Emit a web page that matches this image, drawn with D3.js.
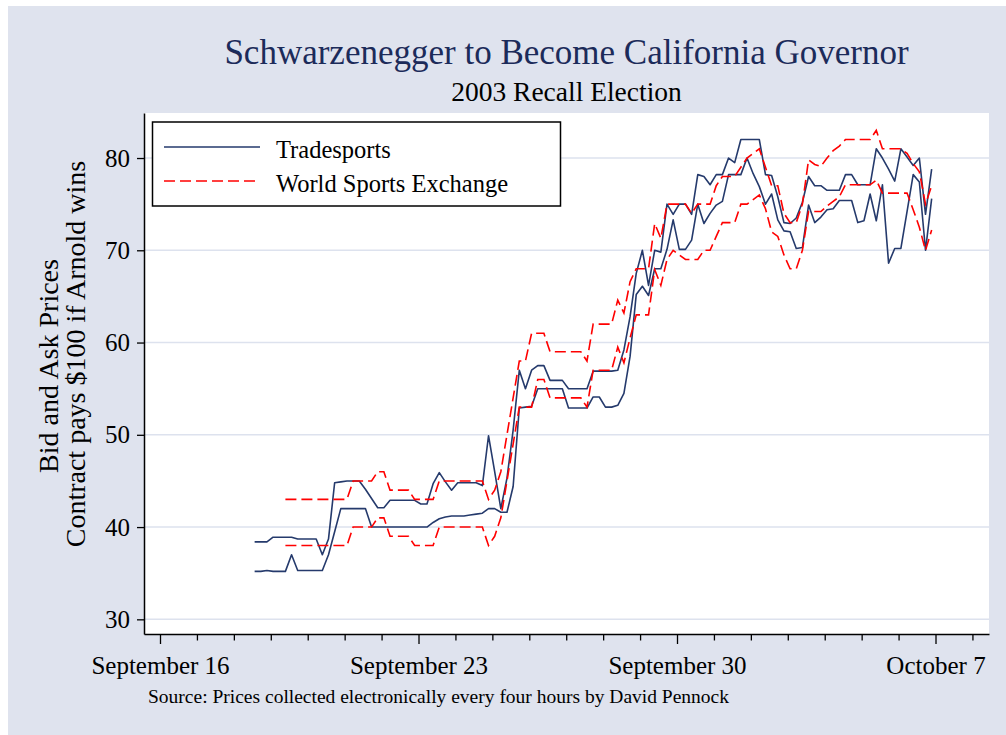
<!DOCTYPE html>
<html><head><meta charset="utf-8">
<script src="https://cdn.jsdelivr.net/npm/d3@7"></script>
<style>
html,body{margin:0;padding:0;background:#fff;}
svg{display:block;font-family:"Liberation Serif","Times New Roman",serif;}
</style></head><body>
<svg id="chart" width="1006" height="735"></svg>
<script>
// ---- data (prices every four hours) ----
const tsStart = [2003, 8, 18, 13, 30];   // Sept 18, 13:30
const wseStart = [2003, 8, 19, 9, 30];   // Sept 19, 09:30
const stepHours = 4;

const tradesportsAsk = [
38.4,38.4,38.4,38.9,38.9,38.9,38.9,38.7,38.7,38.7,
38.7,37.0,38.7,44.8,44.9,45.0,45.0,45.0,44.1,43.1,
42.1,42.1,42.9,42.9,42.9,42.9,42.9,42.5,42.5,44.7,
45.9,44.9,44.0,44.8,44.8,44.8,44.8,44.5,49.9,46.0,
42.0,45.3,50.5,57.0,55.0,57.0,57.5,57.5,55.9,55.9,
55.9,55.0,55.0,55.0,55.0,56.9,56.9,56.9,56.9,57.0,
59.2,62.8,67.5,70.0,66.2,70.0,69.8,75.0,73.9,75.0,
75.0,73.9,78.2,78.0,77.1,78.2,78.2,80.0,79.5,82.0,
82.0,82.0,82.0,78.2,78.1,75.8,73.0,72.9,73.5,75.2,
78.0,77.0,77.0,76.5,76.5,76.5,78.2,78.2,77.1,77.1,
77.1,81.0,80.0,78.8,77.5,81.0,80.1,79.2,80.0,73.9,
78.8];
const tradesportsBid = [
35.2,35.2,35.3,35.2,35.2,35.2,37.0,35.3,35.3,35.3,
35.3,35.3,37.0,39.5,42.0,42.0,42.0,42.0,42.0,40.0,
40.0,40.0,40.0,40.0,40.0,40.0,40.0,40.0,40.0,40.5,
40.9,41.1,41.2,41.2,41.2,41.3,41.4,41.5,42.0,42.0,
41.6,41.6,44.4,52.9,53.0,53.1,55.0,55.0,55.0,55.0,
55.0,52.9,52.9,52.9,52.9,54.1,54.1,53.0,53.0,53.2,
54.5,58.5,65.2,66.1,65.1,68.0,68.0,70.1,73.3,70.1,
70.1,71.1,75.0,72.9,74.0,74.9,75.3,78.2,78.2,78.2,
80.0,78.3,76.9,75.0,76.1,73.3,72.1,72.0,70.2,70.3,
74.9,73.0,73.6,74.4,74.5,75.4,75.4,75.4,73.0,73.2,
76.1,73.2,77.1,68.6,70.2,70.2,74.2,78.2,77.4,70.0,
75.6];
const wseAsk = [
43,43,43,43,43,43,43,43,43,43,
43,45,45,45,45,46,46,44,44,44,
44,43,43,43,43,45,45,45,45,45,
45,45,45,43,44,46,50,54,58,58,
61,61,61,59,59,59,59,59,59,58,
62,62,62,62,64.6,63.2,66.6,68,68,68,
72.9,71.3,75,75,75,75,74,75,75,75,
77,78,78,78,79,80,80.5,81,79,77,
77,74,73,73,75,79.8,79.3,79.1,80,80.8,
81.3,82,82,82,82,82,83,81,81,81,
81,80.5,79.4,78.5,75,77];
const wseBid = [
38,38,38,38,38,38,38,38,38,38,
38,40,40,40,40,41,41,39,39,39,
39,38,38,38,38,40,40,40,40,40,
40,40,40,38,39,41,45,49,53,53,
53,56,56,54,54,54,54,54,54,53,
57,57,57,57,59.5,57.8,60.5,63,63,63,
67.9,66.2,69,70,69.5,69,69,69,70,70,
71.5,73,73,73,75,75,75.5,76,74.5,72,
71.5,69.5,68,68,70,74.2,74.2,74.2,74.8,75.3,
75.8,77.1,77.1,77.1,77.1,77.1,77.6,76.2,76.2,76.2,
76.2,76.2,74.4,72.5,70,72.2];

const yTicks = [30, 40, 50, 60, 70, 80];
const majorTickDays = [[2003,8,16],[2003,8,23],[2003,8,30],[2003,9,7]];
const majorTickLabels = ["September 16","September 23","September 30","October 7"];
const legendLabels = ["Tradesports", "World Sports Exchange"];
const titleText = "Schwarzenegger to Become California Governor";
const subtitleText = "2003 Recall Election";
const yTitleLines = ["Bid and Ask Prices", "Contract pays $100 if Arnold wins"];
const sourceText = "Source: Prices collected electronically every four hours by David Pennock";

// ---- layout ----
const W = 1006, H = 735;
const plot = {left: 144, right: 989, top: 113, bottom: 634};
const navy = "#253a6c", red = "#ff0000";
const bg = "#dfe3ee", gridC = "#dde2ee";
const fontTick = 25;
const serif = "Liberation Serif, Times New Roman, serif";

const svg = d3.select("#chart");

const mk = a => new Date(a[0], a[1], a[2], a[3] || 0, a[4] || 0);
const series = (start, vals) => vals.map((v, i) => ({t: d3.timeHour.offset(mk(start), i * stepHours), v}));

const x = d3.scaleTime()
  .domain([new Date(2003, 8, 15, 13, 36), new Date(2003, 9, 8, 10, 46)])
  .range([plot.left, plot.right]);
const y = d3.scaleLinear().domain([28.41, 84.88]).range([plot.bottom, plot.top]);

// backgrounds
svg.append("rect").attr("x", 8).attr("y", 6).attr("width", W - 8).attr("height", H - 6).attr("fill", bg);
svg.append("rect").attr("x", plot.left).attr("y", plot.top)
  .attr("width", plot.right - plot.left).attr("height", plot.bottom - plot.top).attr("fill", "#fff");

// grid
svg.append("g").selectAll("line").data(yTicks).join("line")
  .attr("x1", plot.left).attr("x2", plot.right)
  .attr("y1", d => y(d)).attr("y2", d => y(d))
  .attr("stroke", gridC).attr("stroke-width", 1.5);

// y axis
const yAxis = svg.append("g").attr("transform", `translate(${plot.left},0)`)
  .call(d3.axisLeft(y).tickValues(yTicks).tickSize(7).tickSizeOuter(0).tickPadding(7));
yAxis.selectAll("text").attr("font-size", fontTick).attr("font-family", serif).attr("fill", "#000");
yAxis.selectAll("line").attr("stroke", "#000").attr("stroke-width", 1.3);
yAxis.select(".domain").attr("stroke", "#000").attr("stroke-width", 1.5);

// x axis: daily minor ticks, weekly labelled
const days = d3.timeDay.range(new Date(2003, 8, 16), new Date(2003, 9, 9));
const majors = majorTickDays.map(mk);
const isMajor = d => majors.some(m => +m === +d);
const xMinor = svg.append("g").attr("transform", `translate(0,${plot.bottom})`)
  .call(d3.axisBottom(x).tickValues(days.filter(d => !isMajor(d))).tickSize(6.5).tickSizeOuter(0).tickFormat(""));
xMinor.selectAll("line").attr("stroke", "#000").attr("stroke-width", 1.3);
xMinor.select(".domain").attr("stroke", "#000").attr("stroke-width", 1.5);
const xMajor = svg.append("g").attr("transform", `translate(0,${plot.bottom})`)
  .call(d3.axisBottom(x).tickValues(majors).tickSize(10).tickSizeOuter(0).tickPadding(12)
    .tickFormat((d, i) => majorTickLabels[i]));
xMajor.select(".domain").remove();
xMajor.selectAll("line").attr("stroke", "#000").attr("stroke-width", 1.3);
xMajor.selectAll("text").attr("font-size", fontTick).attr("font-family", serif).attr("fill", "#000");

// lines
const line = d3.line().x(d => x(d.t)).y(d => y(d.v));
const gL = svg.append("g");
[tradesportsAsk, tradesportsBid].forEach(vals => {
  gL.append("path").datum(series(tsStart, vals)).attr("d", line)
    .attr("fill", "none").attr("stroke", navy).attr("stroke-width", 1.6).attr("stroke-linejoin", "round");
});
[wseAsk, wseBid].forEach(vals => {
  gL.append("path").datum(series(wseStart, vals)).attr("d", line)
    .attr("fill", "none").attr("stroke", red).attr("stroke-width", 1.6).attr("stroke-dasharray", "11,5");
});

// legend
const leg = svg.append("g");
leg.append("rect").attr("x", 152.5).attr("y", 122).attr("width", 408).attr("height", 84)
  .attr("fill", "#fff").attr("stroke", "#000").attr("stroke-width", 1.5);
const legStyles = [{c: navy, dash: null}, {c: red, dash: "11,5"}];
legendLabels.forEach((lab, i) => {
  const yy = 147 + i * 34;
  leg.append("line").attr("x1", 164).attr("x2", 260).attr("y1", yy).attr("y2", yy)
    .attr("stroke", legStyles[i].c).attr("stroke-width", 1.6).attr("stroke-dasharray", legStyles[i].dash);
  leg.append("text").attr("x", 276).attr("y", yy + 10.5).attr("font-size", 24.5).text(lab);
});

// titles
svg.append("text").attr("x", (plot.left + plot.right) / 2).attr("y", 63.5).attr("text-anchor", "middle")
  .attr("font-size", 35).attr("fill", "#1c2b5a").text(titleText);
svg.append("text").attr("x", (plot.left + plot.right) / 2).attr("y", 101).attr("text-anchor", "middle")
  .attr("font-size", 27.5).attr("fill", "#000").text(subtitleText);

// y title
const yTitleCenters = [366, 354];
yTitleLines.forEach((t, i) => {
  svg.append("text").attr("transform", `translate(${58 + i * 27},${yTitleCenters[i]}) rotate(-90)`)
    .attr("text-anchor", "middle").attr("font-size", 28).attr("fill", "#000").text(t);
});

// source note
svg.append("text").attr("x", 148).attr("y", 703).attr("font-size", 19.5).attr("fill", "#000").text(sourceText);
</script>
</body></html>
